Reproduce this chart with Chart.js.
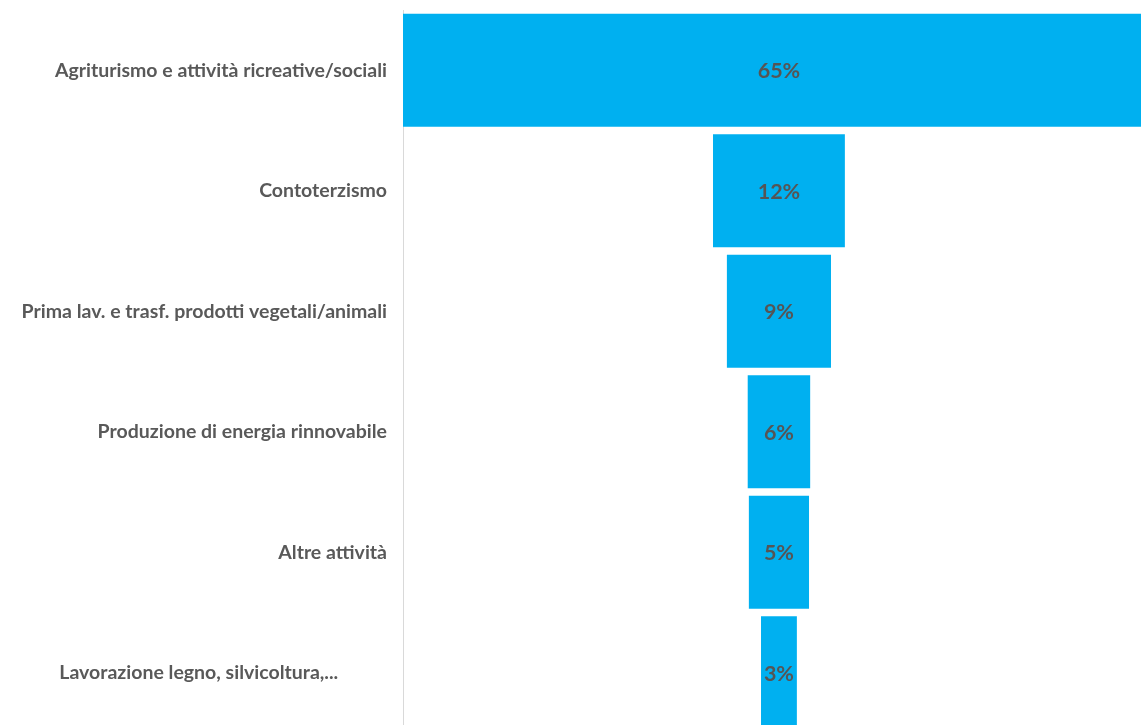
<!DOCTYPE html>
<html>
<head>
<meta charset="utf-8">
<script src="https://cdn.jsdelivr.net/npm/chart.js@4.4.1/dist/chart.umd.min.js"></script>
<style>
html,body{margin:0;padding:0;background:#fff;overflow:hidden;}
#wrap{position:relative;width:1141px;height:733px;}
</style>
</head>
<body>
<div id="wrap"><canvas id="c"></canvas></div>
<script>
const categories = [
  'Agriturismo e attività ricreative/sociali',
  'Contoterzismo',
  'Prima lav. e trasf. prodotti vegetali/animali',
  'Produzione di energia rinnovabile',
  'Altre attività',
  'Lavorazione legno, silvicoltura,...\u2003\u2003\u2002\u2002'
];
const shares = [65, 11.4, 9.0, 5.4, 5.2, 3.1];
const shareLabels = ['65%', '12%', '9%', '6%', '5%', '3%'];

const barLabelPlugin = {
  id: 'barLabels',
  afterDatasetsDraw(chart) {
    const ctx = chart.ctx;
    const meta = chart.getDatasetMeta(0);
    const xs = chart.scales.x;
    ctx.save();
    ctx.font = 'bold 21.5px Lato';
    ctx.fillStyle = '#555555';
    ctx.textAlign = 'center';
    ctx.textBaseline = 'middle';
    meta.data.forEach((bar, i) => {
      ctx.fillText(shareLabels[i], xs.getPixelForValue(0), bar.y + 1);
    });
    ctx.restore();
  }
};

new Chart(document.getElementById('c'), {
  type: 'bar',
  data: {
    labels: categories,
    datasets: [{
      data: shares.map(v => [-v / 2, v / 2]),
      backgroundColor: '#00B0F0',
      borderWidth: 0,
      barPercentage: 0.938,
      categoryPercentage: 1
    }]
  },
  options: {
    indexAxis: 'y',
    responsive: true,
    maintainAspectRatio: false,
    animation: false,
    layout: { padding: { top: 10, right: 0, bottom: 0, left: 0 } },
    plugins: { legend: { display: false }, tooltip: { enabled: false } },
    scales: {
      x: {
        display: false,
        min: -32.5,
        max: 31.3
      },
      y: {
        grid: { display: false, drawTicks: false },
        border: { display: true, color: '#d9d9d9', width: 1 },
        ticks: {
          color: '#595959',
          font: { family: 'Lato', size: 19.5, weight: 'bold' },
          padding: 16
        },
        afterFit(scale) {
          scale.width = 403;
          scale.paddingTop = 0;
          scale.paddingBottom = 0;
        }
      }
    }
  },
  plugins: [barLabelPlugin]
});
</script>
</body>
</html>
